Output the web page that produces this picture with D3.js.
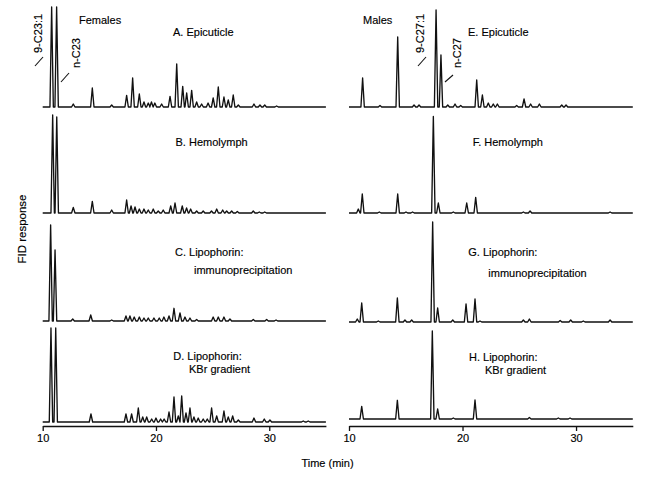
<!DOCTYPE html>
<html>
<head>
<meta charset="utf-8">
<script src="https://cdn.jsdelivr.net/npm/d3@7"></script>
<style>
body { margin: 0; background: #fff; }
text { font-family: "Liberation Sans", Arial, sans-serif; font-size: 11px; fill: #000; stroke: #000; stroke-width: 0.15; }
.trace { fill: none; stroke: #111; stroke-width: 1.35; stroke-linejoin: round; }
.pointer { stroke: #111; stroke-width: 1.1; }
</style>
</head>
<body>
<div id="vis"></div>
<script>
// retention time (min), peak height (% of panel height)
var femalesEpicuticle = [[10.79,100],[11.23,100],[12.7,3],[14.38,19],[16.09,2],[17.41,11.6],[17.94,29],
  [18.53,13],[18.94,5],[19.32,4],[19.6,5],[19.9,4],[20.5,3],[21.24,10.6],[21.83,43],[22.36,20.6],
  [22.71,14],[23.15,16.6],[23.59,5],[24.03,3],[24.6,4],[25.05,9],[25.5,20],[26.0,10],[26.38,7],
  [26.82,12],[27.27,2],[28.65,3],[29.18,2],[29.6,2],[30.65,1]];
var femalesHemolymph = [[10.88,98],[11.24,96],[12.7,5.6],[14.38,11.6],[16.09,3],[17.41,13],[17.8,7],
  [18.15,6],[18.53,4],[18.94,4],[19.32,3],[19.76,4],[20.2,2],[20.64,3],[21.3,7],[21.68,10],
  [22.32,7],[22.7,5],[23.06,4],[23.59,2],[24.17,2],[24.9,2],[25.36,4],[25.89,3],[26.24,2],
  [26.68,2],[27.18,1.5],[28.59,2],[29.12,1],[29.6,1]];
var femalesImmuno = [[10.7,96],[11.09,71],[12.65,2],[14.24,6],[16.09,1],[17.35,5],[17.7,5],[18.08,4],
  [18.53,4],[18.94,3],[19.32,3],[19.82,3],[20.29,3],[20.7,4],[21.15,5],[21.59,12.7],[22.12,8],
  [22.56,4],[23.0,3],[23.59,1.5],[25.05,4],[25.5,4],[26.0,4],[26.53,2],[28.59,1.5],[29.77,1.5],[30.6,1]];
var femalesKBr = [[10.73,94],[11.15,94],[14.26,8],[17.35,8],[17.85,8],[18.44,14],[18.83,5],[19.18,5],
  [19.62,3],[20.0,4],[20.41,3],[20.72,3],[21.15,10],[21.59,25],[21.97,6],[22.27,26],[22.65,9],
  [23.0,14],[23.35,5],[23.73,4],[24.17,3],[24.53,3],[24.91,14],[25.36,6],[26.0,11],[26.38,5],
  [26.77,6],[27.27,2],[28.65,4],[29.56,3],[30.06,2],[33.0,1],[33.44,1]];

var malesEpicuticle = [[11.2,29],[12.73,1.5],[14.29,70],[15.73,2],[16.17,2],[17.67,97],[18.1,52],
  [18.7,2],[19.34,3],[19.84,1.5],[21.25,27],[21.75,12],[22.27,4],[22.71,3],[23.07,3],[24.77,1.5],
  [25.42,8],[26.0,3],[26.77,3],[28.74,2],[29.12,2]];
var malesHemolymph = [[10.82,4],[11.17,19],[12.67,1],[14.29,19],[15.02,1],[15.6,1],[17.43,96.6],
  [17.87,10],[19.19,1],[20.37,10],[21.16,15.6],[25.36,1],[25.95,2],[33.0,1]];
var malesImmuno = [[10.73,3],[11.12,19],[12.58,1],[14.26,24],[14.93,2],[15.52,2],[17.37,100],
  [17.81,14],[19.14,2],[20.31,18],[21.1,23],[21.54,1],[25.36,2],[25.89,3],[28.6,1.5],[29.53,2],
  [30.64,1],[33.0,2]];
var malesKBr = [[11.12,12.6],[14.26,18.7],[17.34,88],[17.81,10],[19.19,1],[21.1,19],[25.89,1.5],
  [28.44,1],[29.47,1]];

var timeDomain = [10, 35];
var majorTicks = [10, 20, 30];
var minorTicks = [12, 14, 16, 18, 22, 24, 26, 28, 32, 34];

var svg = d3.select("div#vis").append("svg")
  .attr("width", 650)
  .attr("height", 486);

svg.append("rect").attr("width", 650).attr("height", 486).attr("fill", "#fff");

var xLeft = d3.scaleLinear().domain(timeDomain).range([42.7, 325.9]);
var xRight = d3.scaleLinear().domain(timeDomain).range([349, 632.8]);

var axisY = 426;
var halfWidth = 0.15; // half width of a peak, in minutes

var panels = [
  {x: xLeft, base: 107, peaks: femalesEpicuticle, labels: [["A. Epicuticle", 173, 36]]},
  {x: xLeft, base: 213, peaks: femalesHemolymph, labels: [["B. Hemolymph", 175.5, 145.5]]},
  {x: xLeft, base: 321, peaks: femalesImmuno, labels: [["C. Lipophorin:", 175, 255.5], ["immunoprecipitation", 194, 274]]},
  {x: xLeft, base: 422, peaks: femalesKBr, labels: [["D. Lipophorin:", 173.3, 360], ["KBr gradient", 189, 373]]},
  {x: xRight, base: 107, peaks: malesEpicuticle, labels: [["E. Epicuticle", 468, 36]]},
  {x: xRight, base: 213, peaks: malesHemolymph, labels: [["F. Hemolymph", 472.7, 145.5]]},
  {x: xRight, base: 322, peaks: malesImmuno, labels: [["G. Lipophorin:", 468.3, 255.5], ["immunoprecipitation", 488.3, 276.5]]},
  {x: xRight, base: 419, peaks: malesKBr, labels: [["H. Lipophorin:", 469, 361], ["KBr gradient", 485, 374]]}
];

// each peak drawn as a narrow spike on the baseline
function spikes(peaks) {
  var pts = [[timeDomain[0], 0]];
  peaks.slice().sort(function(a, b) { return a[0] - b[0]; }).forEach(function(p) {
    pts.push([p[0] - halfWidth, 0], [p[0], p[1]], [p[0] + halfWidth, 0]);
  });
  pts.push([timeDomain[1], 0]);
  return pts;
}

panels.forEach(function(p) {
  var y = d3.scaleLinear().domain([0, 100]).range([p.base, p.base - 100]);
  var line = d3.line()
    .x(function(d) { return p.x(d[0]); })
    .y(function(d) { return y(d[1]); });

  svg.append("path")
    .attr("class", "trace")
    .attr("d", line(spikes(p.peaks)));

  p.labels.forEach(function(l) {
    svg.append("text").attr("x", l[1]).attr("y", l[2]).text(l[0]);
  });
});

[xLeft, xRight].forEach(function(x) {
  var g = svg.append("g").attr("transform", "translate(0," + axisY + ")");
  g.call(d3.axisBottom(x).tickValues(minorTicks).tickSize(3).tickSizeOuter(0).tickFormat(""));
  g.call(d3.axisBottom(x).tickValues(majorTicks).tickSize(5).tickSizeOuter(0));
  g.attr("font-size", 11).attr("font-family", "Liberation Sans, Arial, sans-serif");
  g.selectAll("path, line").attr("stroke", "#111").attr("stroke-width", 1.3);
  g.selectAll("text").attr("fill", "#000");
});

svg.append("text").attr("x", 79).attr("y", 24).text("Females");
svg.append("text").attr("x", 363).attr("y", 24).text("Males");

// compound labels, rotated, with pointer lines
var compounds = [
  {text: "9-C23:1", x: 42, y: 53, line: [35, 66, 43, 57]},
  {text: "n-C23", x: 80, y: 68, line: [61, 82, 69, 73]},
  {text: "9-C27:1", x: 424, y: 53, line: [418, 66, 426, 57]},
  {text: "n-C27", x: 461, y: 68, line: [445, 82, 453, 75]}
];

compounds.forEach(function(c) {
  svg.append("text")
    .attr("transform", "translate(" + c.x + "," + c.y + ") rotate(-90)")
    .text(c.text);
  svg.append("line")
    .attr("class", "pointer")
    .attr("x1", c.line[0]).attr("y1", c.line[1])
    .attr("x2", c.line[2]).attr("y2", c.line[3]);
});

svg.append("text")
  .attr("transform", "translate(26,229) rotate(-90)")
  .attr("text-anchor", "middle")
  .style("font-size", "11.5px")
  .text("FID response");

svg.append("text")
  .attr("x", 327.5)
  .attr("y", 467)
  .attr("text-anchor", "middle")
  .text("Time (min)");
</script>
</body>
</html>
